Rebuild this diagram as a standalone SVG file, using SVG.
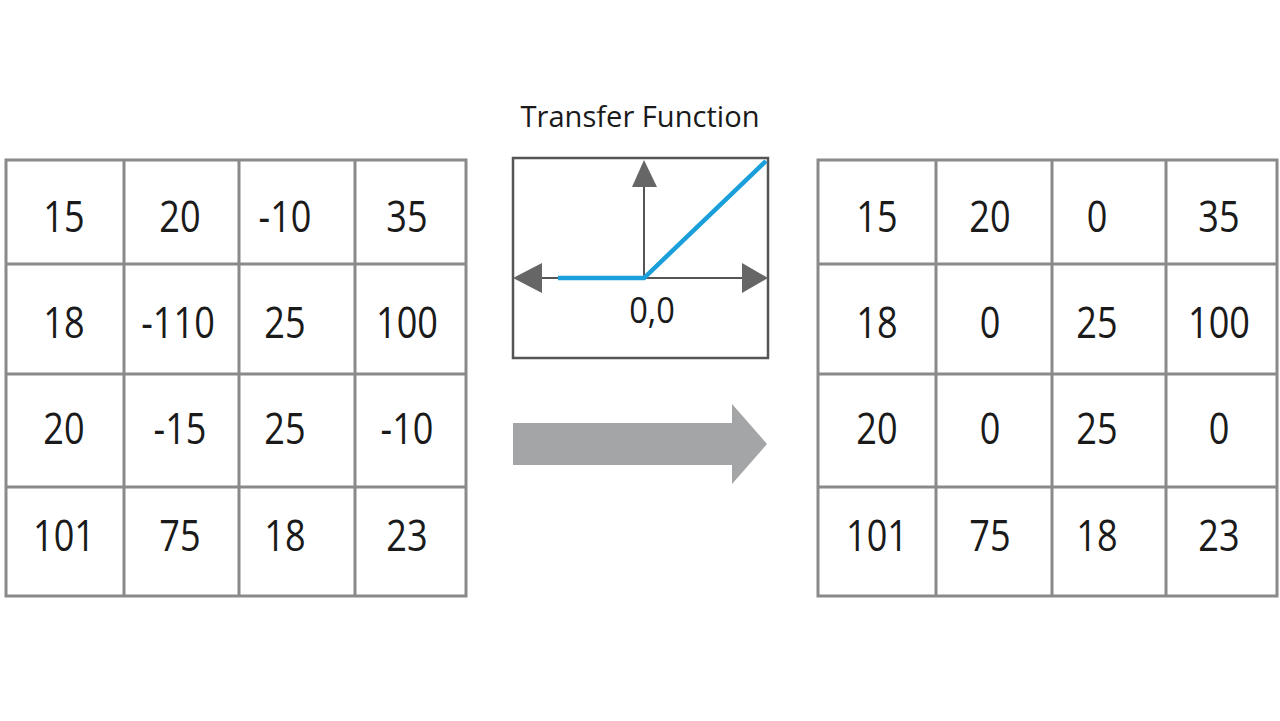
<svg xmlns="http://www.w3.org/2000/svg" width="1280" height="721" viewBox="0 0 1280 721">
<style>
.grid{fill:none;stroke:#8a8a8a;stroke-width:3}
.num{font-family:"Open Sans","Noto Sans",sans-serif;font-size:43px;fill:#1a1a1a;text-anchor:middle}
.title{font-family:"Open Sans","Noto Sans",sans-serif;font-size:30px;fill:#1a1a1a;text-anchor:middle}
.axis{stroke:#555;stroke-width:2;fill:none}
.head{fill:#666}
</style>
<rect width="1280" height="721" fill="#fff"/>
<g id="input-matrix">
<rect class="grid" x="6" y="160" width="460" height="436"/>
<path class="grid" d="M124 160V596M239 160V596M355 160V596M6 264H466M6 374H466M6 487H466"/>
<text class="num" transform="translate(64 232) scale(0.84 1)">15</text>
<text class="num" transform="translate(180 232) scale(0.84 1)">20</text>
<text class="num" transform="translate(285 232) scale(0.84 1)">-10</text>
<text class="num" transform="translate(407 232) scale(0.84 1)">35</text>
<text class="num" transform="translate(64 338) scale(0.84 1)">18</text>
<text class="num" transform="translate(178 338) scale(0.84 1)">-110</text>
<text class="num" transform="translate(285 338) scale(0.84 1)">25</text>
<text class="num" transform="translate(407 338) scale(0.84 1)">100</text>
<text class="num" transform="translate(64 444) scale(0.84 1)">20</text>
<text class="num" transform="translate(180 444) scale(0.84 1)">-15</text>
<text class="num" transform="translate(285 444) scale(0.84 1)">25</text>
<text class="num" transform="translate(407 444) scale(0.84 1)">-10</text>
<text class="num" transform="translate(64 551) scale(0.84 1)">101</text>
<text class="num" transform="translate(180 551) scale(0.84 1)">75</text>
<text class="num" transform="translate(285 551) scale(0.84 1)">18</text>
<text class="num" transform="translate(407 551) scale(0.84 1)">23</text>
</g>
<g id="transfer-function">
<text class="title" transform="translate(640 127) scale(0.97 1)">Transfer Function</text>
<rect x="513" y="158" width="255" height="200" fill="#fff" stroke="#555" stroke-width="2.5"/>
<path class="axis" d="M644 278V185M542 278H742"/>
<polygon class="head" points="644,160 632,187 657,187"/>
<polygon class="head" points="513,278 542,263 542,293"/>
<polygon class="head" points="768,278 742,263 742,293"/>
<polyline points="558,278 644,278 766,161" fill="none" stroke="#1a9fdb" stroke-width="4.5"/>
<text class="num" transform="translate(652 323) scale(0.88 1)" style="font-size:37px">0,0</text>
</g>
<g id="connectors">
<polygon id="apply-arrow" points="513,423 732,423 732,404 767,444 732,484 732,465 513,465" fill="#a3a5a7"/>
</g>
<g id="output-matrix">
<rect class="grid" x="818" y="160" width="459" height="436"/>
<path class="grid" d="M936 160V596M1052 160V596M1166 160V596M818 264H1277M818 374H1277M818 487H1277"/>
<text class="num" transform="translate(877 232) scale(0.84 1)">15</text>
<text class="num" transform="translate(990 232) scale(0.84 1)">20</text>
<text class="num" transform="translate(1097 232) scale(0.84 1)">0</text>
<text class="num" transform="translate(1219 232) scale(0.84 1)">35</text>
<text class="num" transform="translate(877 338) scale(0.84 1)">18</text>
<text class="num" transform="translate(990 338) scale(0.84 1)">0</text>
<text class="num" transform="translate(1097 338) scale(0.84 1)">25</text>
<text class="num" transform="translate(1219 338) scale(0.84 1)">100</text>
<text class="num" transform="translate(877 444) scale(0.84 1)">20</text>
<text class="num" transform="translate(990 444) scale(0.84 1)">0</text>
<text class="num" transform="translate(1097 444) scale(0.84 1)">25</text>
<text class="num" transform="translate(1219 444) scale(0.84 1)">0</text>
<text class="num" transform="translate(877 551) scale(0.84 1)">101</text>
<text class="num" transform="translate(990 551) scale(0.84 1)">75</text>
<text class="num" transform="translate(1097 551) scale(0.84 1)">18</text>
<text class="num" transform="translate(1219 551) scale(0.84 1)">23</text>
</g>
</svg>
